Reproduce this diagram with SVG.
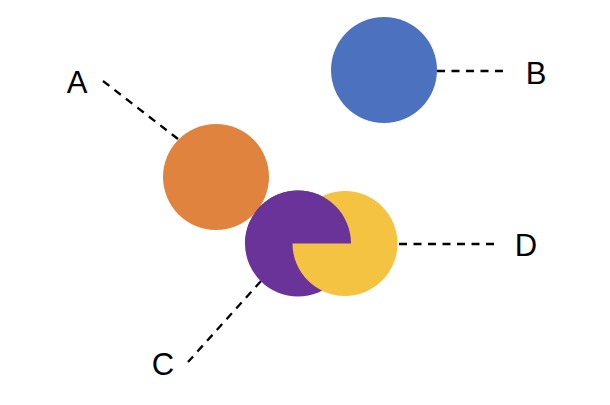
<svg xmlns="http://www.w3.org/2000/svg" width="610" height="405" viewBox="0 0 610 405">
<style>
.lbl{font-family:"Liberation Sans",Arial,sans-serif;font-size:31px;fill:#000;text-anchor:middle}
.dash{stroke:#000;stroke-width:2.3;stroke-dasharray:8 6.5;fill:none}
</style>
<rect width="610" height="405" fill="#fff"/>
<g id="connectors">
<line class="dash" x1="103" y1="81" x2="178" y2="139"/>
<line class="dash" x1="437" y1="71" x2="505" y2="71"/>
<line class="dash" x1="399" y1="244" x2="497" y2="244"/>
<line class="dash" x1="261" y1="281" x2="188" y2="362"/>
</g>
<g id="nodeA"><circle cx="216" cy="177" r="53" fill="#E0833F"/><text class="lbl" x="77" y="93">A</text></g>
<g id="nodeB"><circle cx="384" cy="70" r="53" fill="#4C72BF"/><text class="lbl" x="536" y="84">B</text></g>
<g id="nodeC"><circle cx="298" cy="243.5" r="53" fill="#6A3399"/></g>
<g id="nodeD"><circle cx="345" cy="243.5" r="52.5" fill="#F5C342"/><text class="lbl" x="526" y="256">D</text></g>
<g id="nodeCtop"><path d="M245 243.5 A53 53 0 0 1 351 243.5 Z" fill="#6A3399"/><text class="lbl" x="163" y="375">C</text></g>
</svg>
